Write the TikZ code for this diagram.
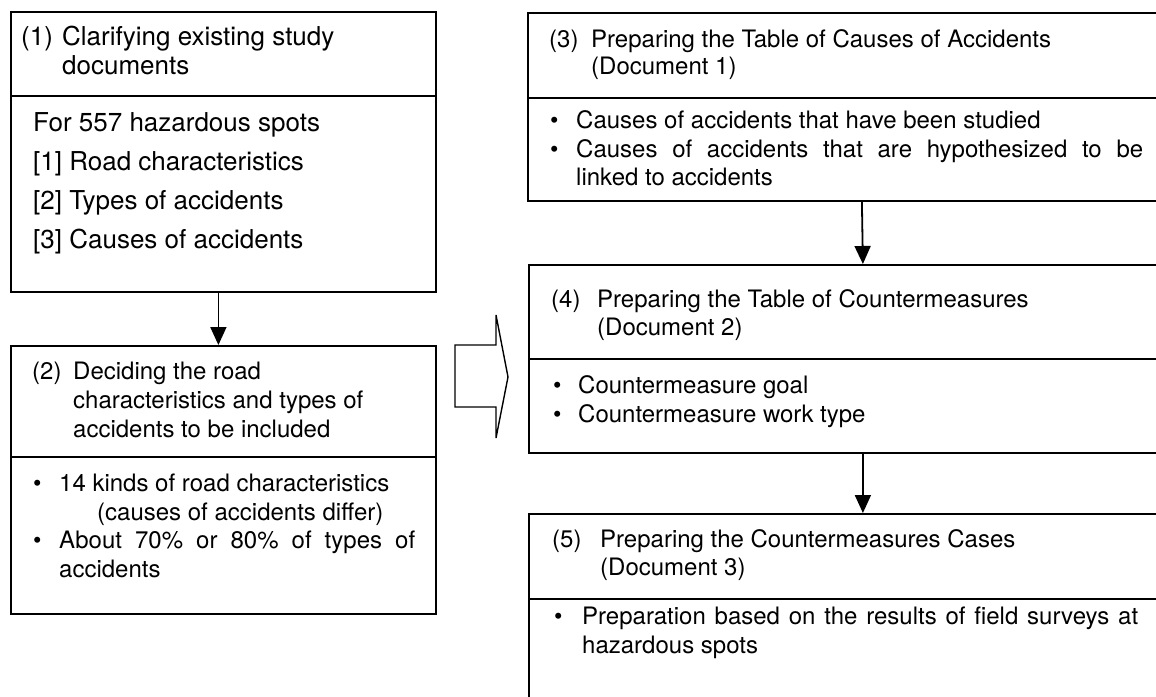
\documentclass[tikz,border=0pt]{standalone}
\usepackage{fontspec}
\setmainfont{TeX Gyre Heros}
\usetikzlibrary{arrows.meta}
\begin{document}
\begin{tikzpicture}[x=1pt,y=-1pt,
  sect/.style={draw, line width=1.8pt, rectangle, inner sep=0pt, anchor=north west},
  tx/.style={anchor=base west, inner sep=0pt, font=\fontsize{24}{29}\selectfont},
  txl/.style={anchor=base west, inner sep=0pt, font=\fontsize{26}{30}\selectfont},
  arr/.style={line width=1.8pt, -{Triangle[length=18pt,width=16pt]}}]
\useasboundingbox (0,0) rectangle (1156,696);
\begin{scope}
\clip (0,0) rectangle (1156,696);
% box 1
\node[sect, minimum width=425pt, minimum height=84pt] (b1h) at (10,11) {};
\node[sect, minimum width=425pt, minimum height=196pt] (b1b) at (10,95) {};
% box 2
\node[sect, minimum width=425pt, minimum height=111pt] (b2h) at (10,345) {};
\node[sect, minimum width=425pt, minimum height=157pt] (b2b) at (10,456) {};
% box 3
\node[sect, minimum width=668pt, minimum height=85pt] (b3h) at (527,12) {};
\node[sect, minimum width=668pt, minimum height=103pt] (b3b) at (527,97) {};
% box 4
\node[sect, minimum width=668pt, minimum height=94pt] (b4h) at (528,264) {};
\node[sect, minimum width=668pt, minimum height=94pt] (b4b) at (528,358) {};
% box 5
\node[sect, minimum width=668pt, minimum height=85pt] (b5h) at (528,513) {};
\node[sect, minimum width=668pt, minimum height=140pt] (b5b) at (528,598) {};
\end{scope}
% connectors
\draw[arr] ([xshift=-5pt]b1b.south) -- ([xshift=-5pt]b2h.north);
\draw[arr] (b3b.south) -- (b4h.north);
\draw[arr] (b4b.south) -- (b5h.north);
% hollow arrow
\draw[line width=1.4pt, line join=miter] (455,345) -- (496,345) -- (496,315) -- (508,377) -- (496,438) -- (496,407) -- (455,407) -- cycle;
% box 1 texts
\node[txl] (t1n) at (21,45) {(1)};
\node[txl] (t1a) at (62,45) {Clarifying existing study};
\node[txl] (t1b) at (62,74) {documents};
\node[txl] (t1c) at (33,131) {For 557 hazardous spots};
\node[txl] (t1d) at (33,170) {[1] Road characteristics};
\node[txl] (t1e) at (33,209) {[2] Types of accidents};
\node[txl] (t1f) at (33,248) {[3] Causes of accidents};
% box 2 texts
\node[tx] (t2n) at (32,379) {(2)};
\node[tx] (t2a) at (73,379) {Deciding the road};
\node[tx] (t2b) at (73,408) {characteristics and types of};
\node[tx] (t2c) at (73,437) {accidents to be included};
\node[tx] (t2d) at (33,491) {•};
\node[tx] (t2e) at (59,491) {14 kinds of road characteristics};
\node[tx] (t2f) at (97,520) {(causes of accidents differ)};
\node[tx] (t2g) at (33,548) {•};
\node[tx] (t2h) at (59,548) {\makebox[356pt][s]{About 70\% or 80\% of types of}};
\node[tx] (t2i) at (59,577) {accidents};
% box 3 texts
\node[tx] (t3n) at (549,47) {(3)};
\node[tx] (t3a) at (591,47) {Preparing the Table of Causes of Accidents};
\node[tx] (t3b) at (591,74) {(Document 1)};
\node[tx] (t3c) at (550,128) {•};
\node[tx] (t3d) at (576,128) {Causes of accidents that have been studied};
\node[tx] (t3e) at (550,157) {•};
\node[tx] (t3f) at (576,157) {\makebox[567pt][s]{Causes of accidents that are hypothesized to be}};
\node[tx] (t3g) at (576,185) {linked to accidents};
% box 4 texts
\node[tx] (t4n) at (551,307) {(4)};
\node[tx] (t4a) at (597,307) {Preparing the Table of Countermeasures};
\node[tx] (t4b) at (597,335) {(Document 2)};
\node[tx] (t4c) at (553,393) {•};
\node[tx] (t4d) at (578,393) {Countermeasure goal};
\node[tx] (t4e) at (553,422) {•};
\node[tx] (t4f) at (578,422) {Countermeasure work type};
% box 5 texts
\node[tx] (t5n) at (552,547) {(5)};
\node[tx] (t5a) at (600,547) {Preparing the Countermeasures Cases};
\node[tx] (t5b) at (600,575) {(Document 3)};
\node[tx] (t5c) at (554,624) {•};
\node[tx] (t5d) at (582,624) {\makebox[556pt][s]{Preparation based on the results of field surveys at}};
\node[tx] (t5e) at (582,653) {hazardous spots};
\end{tikzpicture}
\end{document}
